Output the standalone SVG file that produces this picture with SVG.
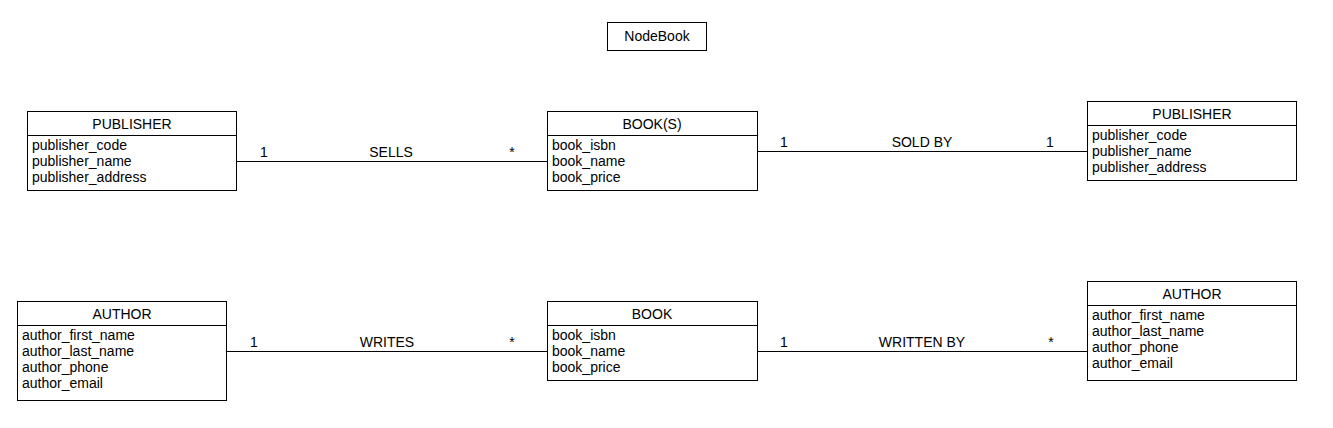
<svg xmlns="http://www.w3.org/2000/svg" width="1333" height="428" viewBox="0 0 1333 428">
<style>
.box{fill:#fff;stroke:#000;stroke-width:1}
.div{stroke:#000;stroke-width:1}
text{font-family:"Liberation Sans",Arial,sans-serif;font-size:14px;fill:#000}
.h{text-anchor:middle}
.lab{text-anchor:middle}
.edge{stroke:#000;stroke-width:1;fill:none}
</style>
<rect width="1333" height="428" fill="#fff"/>
<g id="title">
<rect class="box" x="607.5" y="22.5" width="99" height="28"/>
<text class="h" x="657" y="41">NodeBook</text>
</g>
<g id="connectors">
<line class="edge" x1="236" y1="161.5" x2="547" y2="161.5"/>
<text class="lab" x="264" y="157">1</text>
<text class="lab" x="391" y="157">SELLS</text>
<text class="lab" x="512" y="157">*</text>
<line class="edge" x1="757" y1="151.5" x2="1087" y2="151.5"/>
<text class="lab" x="784" y="147">1</text>
<text class="lab" x="922" y="147">SOLD BY</text>
<text class="lab" x="1050" y="147">1</text>
<line class="edge" x1="226" y1="351.5" x2="547" y2="351.5"/>
<text class="lab" x="254" y="347">1</text>
<text class="lab" x="387" y="347">WRITES</text>
<text class="lab" x="512" y="347">*</text>
<line class="edge" x1="757" y1="351.5" x2="1087" y2="351.5"/>
<text class="lab" x="784" y="347">1</text>
<text class="lab" x="922" y="347">WRITTEN BY</text>
<text class="lab" x="1051" y="347">*</text>
</g>
<g id="publisher1">
<rect class="box" x="27.5" y="111.5" width="209" height="79"/>
<line class="div" x1="27.5" y1="135.5" x2="236.5" y2="135.5"/>
<text class="h" x="132" y="129">PUBLISHER</text>
<text x="32" y="150">publisher_code</text>
<text x="32" y="166">publisher_name</text>
<text x="32" y="182">publisher_address</text>
</g>
<g id="books">
<rect class="box" x="547.5" y="111.5" width="210" height="79"/>
<line class="div" x1="547.5" y1="135.5" x2="757.5" y2="135.5"/>
<text class="h" x="652" y="129">BOOK(S)</text>
<text x="552" y="150">book_isbn</text>
<text x="552" y="166">book_name</text>
<text x="552" y="182">book_price</text>
</g>
<g id="publisher2">
<rect class="box" x="1087.5" y="101.5" width="209" height="79"/>
<line class="div" x1="1087.5" y1="125.5" x2="1296.5" y2="125.5"/>
<text class="h" x="1192" y="119">PUBLISHER</text>
<text x="1092" y="140">publisher_code</text>
<text x="1092" y="156">publisher_name</text>
<text x="1092" y="172">publisher_address</text>
</g>
<g id="author1">
<rect class="box" x="17.5" y="301.5" width="209" height="99"/>
<line class="div" x1="17.5" y1="325.5" x2="226.5" y2="325.5"/>
<text class="h" x="122" y="319">AUTHOR</text>
<text x="22" y="340">author_first_name</text>
<text x="22" y="356">author_last_name</text>
<text x="22" y="372">author_phone</text>
<text x="22" y="388">author_email</text>
</g>
<g id="book">
<rect class="box" x="547.5" y="301.5" width="210" height="79"/>
<line class="div" x1="547.5" y1="325.5" x2="757.5" y2="325.5"/>
<text class="h" x="652" y="319">BOOK</text>
<text x="552" y="340">book_isbn</text>
<text x="552" y="356">book_name</text>
<text x="552" y="372">book_price</text>
</g>
<g id="author2">
<rect class="box" x="1087.5" y="281.5" width="209" height="99"/>
<line class="div" x1="1087.5" y1="305.5" x2="1296.5" y2="305.5"/>
<text class="h" x="1192" y="299">AUTHOR</text>
<text x="1092" y="320">author_first_name</text>
<text x="1092" y="336">author_last_name</text>
<text x="1092" y="352">author_phone</text>
<text x="1092" y="368">author_email</text>
</g>
</svg>
